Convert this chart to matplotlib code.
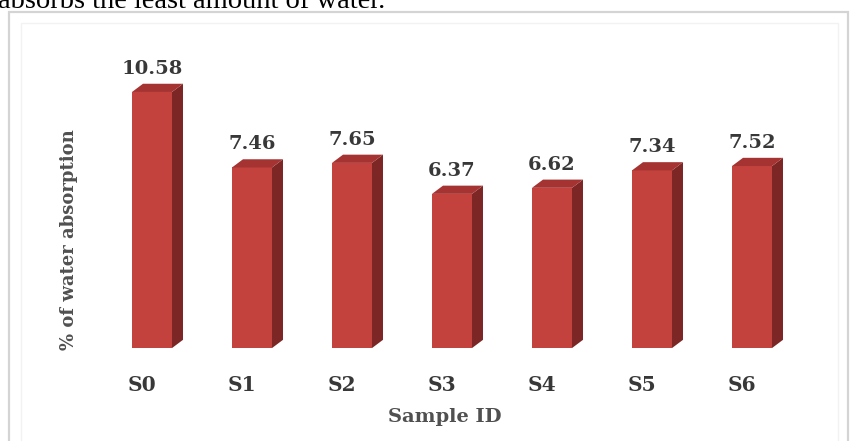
import matplotlib.pyplot as plt
from matplotlib.patches import Polygon, Rectangle

samples = ["S0", "S1", "S2", "S3", "S4", "S5", "S6"]
absorption = [10.58, 7.46, 7.65, 6.37, 6.62, 7.34, 7.52]

front_color = "#c3423e"
side_color = "#7c2725"
top_color = "#a53331"
text_color = "#383838"
label_font = "DejaVu Serif"

bar_w = 0.40
depth_x = 0.11
depth_y = 0.34

fig = plt.figure(figsize=(8.51, 4.41), dpi=100)
ax = fig.add_axes([0, 0, 1, 1])
ax.set_xlim(-1.52, 6.99)
ax.set_ylim(-3.84, 14.38)
ax.axis("off")

# chart frame
fig.patches.append(Rectangle((9 / 851, -0.05), 848 / 851 - 9 / 851, 1 - 12 / 441 + 0.05,
                             transform=fig.transFigure, fill=False,
                             edgecolor="#d4d4d4", linewidth=1.6))
fig.patches.append(Rectangle((21 / 851, -0.05), 838 / 851 - 21 / 851, 1 - 23 / 441 + 0.05,
                             transform=fig.transFigure, fill=False,
                             edgecolor="#f2f2f2", linewidth=1.0))

xs = list(range(len(samples)))
ax.bar(xs, absorption, width=bar_w, color=front_color, edgecolor="none", zorder=3)

for x, v in zip(xs, absorption):
    r = x + bar_w / 2
    l = x - bar_w / 2
    # right side face
    ax.add_patch(Polygon([(r, 0), (r + depth_x, depth_y), (r + depth_x, v + depth_y), (r, v)],
                         closed=True, facecolor=side_color, edgecolor="none", zorder=3))
    # top face
    ax.add_patch(Polygon([(l, v), (r, v), (r + depth_x, v + depth_y), (l + depth_x, v + depth_y)],
                         closed=True, facecolor=top_color, edgecolor="none", zorder=3))
    ax.text(x, v + depth_y + 0.25, f"{v:.2f}", ha="center", va="bottom",
            family=label_font, fontweight="bold", fontsize=14, color=text_color)
    ax.text(x - 0.1, -1.53, samples[x], ha="center", va="center",
            family=label_font, fontweight="bold", fontsize=14.5, color=text_color)

ax.text(2.93, -2.83, "Sample ID", ha="center", va="center",
        family=label_font, fontweight="bold", fontsize=14, color="#505050")
fig.text(69 / 851, 0.456, "% of water absorption", rotation=90, ha="center", va="center",
         family=label_font, fontweight="bold", fontsize=13, color="#505050")

fig.text(-2 / 851, 1 - 8 / 441, "absorbs the least amount of water.", ha="left", va="baseline",
         family="Liberation Serif", fontsize=20.5, color="black")

fig.savefig("out.png", dpi=100)
